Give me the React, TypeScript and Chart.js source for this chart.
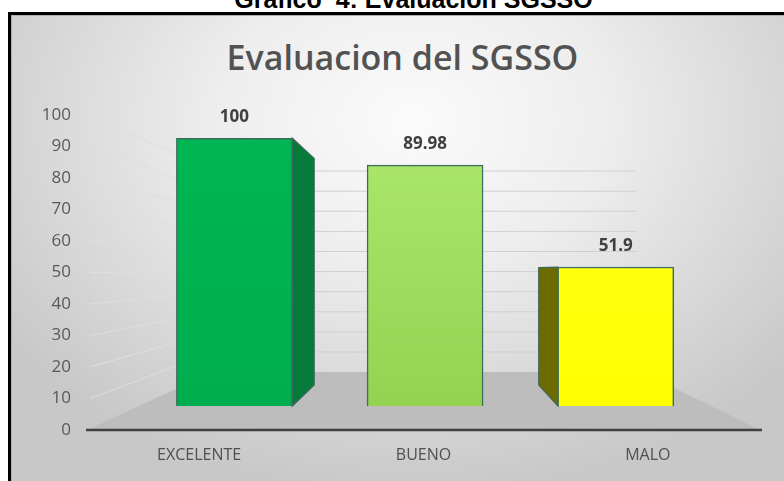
import React, { useEffect, useRef } from 'react';
import { Chart, registerables } from 'chart.js';

Chart.register(...registerables);

// ---------- data ----------
const PAGE_TITLE = 'Gráfico  4: Evaluación SGSSO';
const CHART_TITLE = 'Evaluacion del SGSSO';
const CATEGORIES = ['EXCELENTE', 'BUENO', 'MALO'];
const VALUES = [100, 89.98, 51.9];
const Y_MIN = 0;
const Y_MAX = 100;
const Y_STEP = 10;

// ---------- styles ----------
const FRONT_TOP = ['#00b653', '#aee96b', '#ffff1c'];
const FRONT_BOTTOM = ['#00ad4e', '#92d050', '#ffff00'];
const SIDE_COLORS = ['#067a3b', '#6fa83c', '#6b6b00'];
const BAR_BORDER = '#3d6b5e';
const TEXT = '#595959';
const FONT = "'Open Sans', 'Noto Sans', sans-serif";

// perspective (vanishing point in axis units, depth scale factors)
const VANISH_X = 1.047;
const VANISH_Y = 50.8;
const K_BAR = 0.85;
const K_BAR_BACK = 0.846;
const K_WALL = 0.638;
const BAR_WIDTH = 116;

const XB_MIN = VANISH_X + (-0.5 - VANISH_X) / K_BAR;
const XB_MAX = VANISH_X + (CATEGORIES.length - 0.5 - VANISH_X) / K_BAR;
const YB_MIN = VANISH_Y + (Y_MIN - VANISH_Y) / K_BAR;
const YB_MAX = VANISH_Y + (Y_MAX - VANISH_Y) / K_BAR;

const scenePlugin = {
  id: 'scene3d',
  beforeDatasetsDraw(chart: any) {
    const { ctx, chartArea: a, scales } = chart;
    const xs = scales.x;
    const ys = scales.y;
    const vx = xs.getPixelForValue(VANISH_X);
    const vy = ys.getPixelForValue(VANISH_Y);
    const P = (px: number, py: number, k: number) => [vx + (px - vx) * k, vy + (py - vy) * k];
    const y0 = ys.getPixelForValue(Y_MIN);
    ctx.save();
    ys.ticks.forEach((t: any) => {
      if (t.value === Y_MIN) return;
      const py = ys.getPixelForValue(t.value);
      const [bx1, by] = P(a.left, py, K_WALL);
      const [bx2] = P(a.right, py, K_WALL);
      ctx.lineWidth = 1;
      ctx.strokeStyle = '#dedede';
      ctx.beginPath();
      ctx.moveTo(a.left + 3, py);
      ctx.lineTo(bx1, by);
      ctx.stroke();
      ctx.strokeStyle = '#d0d0d0';
      ctx.beginPath();
      ctx.moveTo(bx1, by);
      ctx.lineTo(bx2 - 6, by);
      ctx.stroke();
    });
    const [fl, fb] = P(a.left, y0, K_WALL);
    const [fr] = P(a.right, y0, K_WALL);
    ctx.fillStyle = '#bdbdbd';
    ctx.beginPath();
    ctx.moveTo(a.left, y0);
    ctx.lineTo(fl, fb);
    ctx.lineTo(fr, fb);
    ctx.lineTo(a.right, y0);
    ctx.closePath();
    ctx.fill();
    ctx.strokeStyle = '#404040';
    ctx.lineWidth = 2.5;
    ctx.beginPath();
    ctx.moveTo(a.left - 1, y0);
    ctx.lineTo(a.right + 2, y0);
    ctx.stroke();
    const meta = chart.getDatasetMeta(0);
    meta.data.forEach((bar: any, i: number) => {
      const { x, y, base, width } = bar.getProps(['x', 'y', 'base', 'width'], true);
      const l = x - width / 2;
      const r = x + width / 2;
      let edge: number | null = null;
      if (r < vx) edge = r;
      else if (l > vx) edge = l;
      if (edge === null) return;
      const [ex1, ey1] = P(edge, y, K_BAR_BACK);
      const [ex2, ey2] = P(edge, base, K_BAR_BACK);
      ctx.fillStyle = SIDE_COLORS[i];
      ctx.strokeStyle = BAR_BORDER;
      ctx.lineWidth = 1.2;
      ctx.beginPath();
      ctx.moveTo(edge, y);
      ctx.lineTo(ex1, ey1);
      ctx.lineTo(ex2, ey2);
      ctx.lineTo(edge, base);
      ctx.closePath();
      ctx.fill();
      ctx.stroke();
    });
    ctx.restore();
  },
  afterDatasetsDraw(chart: any) {
    const { ctx } = chart;
    const meta = chart.getDatasetMeta(0);
    ctx.save();
    ctx.font = `bold 17px ${FONT}`;
    ctx.fillStyle = '#404040';
    ctx.textAlign = 'center';
    ctx.textBaseline = 'middle';
    meta.data.forEach((bar: any, i: number) => {
      const { x, y } = bar.getProps(['x', 'y'], true);
      ctx.fillText(String(VALUES[i]), x, y - 21);
    });
    ctx.restore();
  },
};

export default function App() {
  const canvasRef = useRef<HTMLCanvasElement | null>(null);

  useEffect(() => {
    if (!canvasRef.current) return;
    const chart = new Chart(canvasRef.current, {
      type: 'bar',
      data: {
        labels: CATEGORIES,
        datasets: [
          {
            data: VALUES.map((v, i) => ({ x: i, y: v })),
            xAxisID: 'xb',
            yAxisID: 'yb',
            backgroundColor: (c: any) => {
              const i = c.dataIndex ?? 0;
              const area = c.chart.chartArea;
              if (!area) return FRONT_BOTTOM[i];
              const g = c.chart.ctx.createLinearGradient(0, area.bottom, 0, area.top);
              g.addColorStop(0, FRONT_BOTTOM[i]);
              g.addColorStop(1, FRONT_TOP[i]);
              return g;
            },
            borderColor: BAR_BORDER,
            borderWidth: 1.5,
            barThickness: BAR_WIDTH,
          } as any,
        ],
      },
      options: {
        animation: false,
        responsive: false,
        maintainAspectRatio: false,
        layout: { padding: { top: 115, right: 24, bottom: 0, left: 0 } },
        plugins: { legend: { display: false }, tooltip: { enabled: false }, title: { display: false } },
        scales: {
          x: {
            type: 'category',
            position: 'bottom',
            offset: true,
            grid: { display: false, drawTicks: false },
            border: { display: false },
            ticks: { color: '#505050', font: { family: FONT, size: 16 }, padding: 16 },
            afterFit: (s: any) => { s.height = 51; },
          },
          y: {
            type: 'linear',
            position: 'left',
            min: Y_MIN,
            max: Y_MAX,
            grid: { display: false, drawTicks: false },
            border: { display: false },
            ticks: { stepSize: Y_STEP, color: TEXT, font: { family: FONT, size: 17 }, padding: 16 },
            afterFit: (s: any) => { s.width = 87; },
          },
          xb: { type: 'linear', display: false, offset: false, min: XB_MIN, max: XB_MAX },
          yb: { type: 'linear', display: false, min: YB_MIN, max: YB_MAX },
        },
      } as any,
      plugins: [scenePlugin],
    });
    return () => chart.destroy();
  }, []);

  return (
    <div style={{ position: 'fixed', left: 0, top: 0, width: 784, height: 481, overflow: 'hidden', background: '#ffffff' }}>
      <div
        style={{
          position: 'absolute', left: 0, top: -13, width: 827, textAlign: 'center',
          fontFamily: "'Liberation Sans', Arial, sans-serif", fontWeight: 700, fontSize: 25, lineHeight: '25px',
          color: '#000', whiteSpace: 'pre',
        }}
      >
        {PAGE_TITLE}
      </div>
      <div
        style={{
          position: 'absolute', left: 8, top: 12, width: 800, height: 480,
          borderTop: '3px solid #000', borderLeft: '3px solid #000',
          boxShadow: 'inset 1px 1px 0 #b0b0b0',
          background: 'radial-gradient(ellipse 62% 78% at 50% 22%, #fbfbfb 0%, #ededed 40%, #d7d7d7 75%, #c8c8c8 100%)',
        }}
      />
      <div
        style={{
          position: 'absolute', left: 0, top: 40, width: 805, textAlign: 'center',
          fontFamily: FONT, fontWeight: 600, fontSize: 34, lineHeight: '34px', color: '#525252', whiteSpace: 'pre',
        }}
      >
        {CHART_TITLE}
      </div>
      <canvas ref={canvasRef} width={784} height={481} style={{ position: 'absolute', left: 0, top: 0, width: 784, height: 481 }} />
    </div>
  );
}
